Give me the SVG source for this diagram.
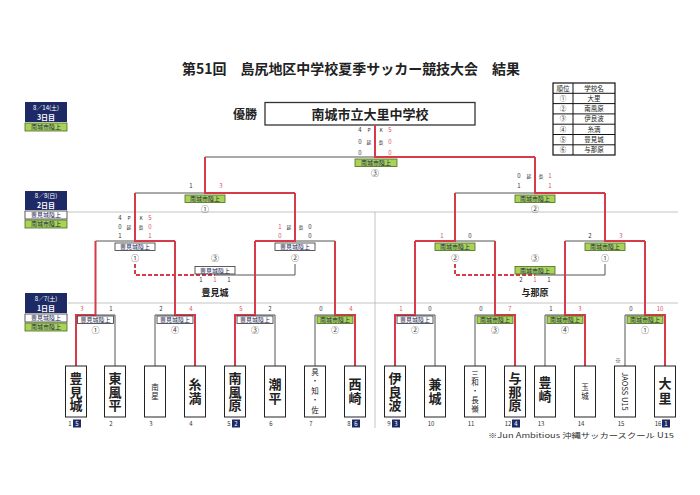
<svg xmlns="http://www.w3.org/2000/svg" width="700" height="495" viewBox="0 0 700 495">
<style>
text{font-family:"Noto Sans CJK JP","Noto Sans",sans-serif}
.g{stroke:#555;stroke-width:1;fill:none}
.r{stroke:#d63b4a;stroke-width:2;fill:none}
.rd{stroke:#d63b4a;stroke-width:2;stroke-dasharray:4 2;fill:none}
.sep{stroke:#b5b5b5;stroke-width:0.8;fill:none}
.box{fill:#fff;stroke:#222;stroke-width:1}
.lw{fill:#fff;stroke:#333;stroke-width:0.8}
.lg{fill:#a9d357;stroke:#4a6a1e;stroke-width:0.8}
.lt{font-size:6px;fill:#1a2550;text-anchor:middle}
.sc{font-size:6px;fill:#333;text-anchor:middle}
.sm{font-size:5px}
.red{fill:#e0505a}
.cn{font-size:8px;fill:#444;text-anchor:middle}
.tv{writing-mode:vertical-rl;text-anchor:middle;font-weight:700;fill:#222;font-size:13px}
.tvs{writing-mode:vertical-rl;text-anchor:middle;fill:#222;font-size:7.5px}
.lgd{font-size:6.5px;fill:#222;text-anchor:middle}
.num{font-size:6px;fill:#333;text-anchor:middle}
.nv{fill:#1e2a66}
.bw{font-size:6px;fill:#fff;text-anchor:middle}
.tb{font-size:7px;font-weight:700;fill:#fff;text-anchor:middle}
</style>
<rect width="700" height="495" fill="#fff"/>

<g id="title">
<text x="182" y="74" font-size="14" font-weight="700" fill="#222" textLength="338" lengthAdjust="spacingAndGlyphs">第51回　島尻地区中学校夏季サッカー競技大会　結果</text>
</g>

<g id="champion">
<text x="245" y="118.5" font-size="12" font-weight="700" fill="#222" text-anchor="middle">優勝</text>
<rect x="265" y="102.5" width="210" height="22.5" fill="#fff" stroke="#333" stroke-width="1.3"/>
<text x="370" y="118.5" font-size="13" font-weight="700" fill="#222" text-anchor="middle">南城市立大里中学校</text>
</g>

<g id="legend">
<rect x="553" y="83" width="62" height="72" fill="#fff" stroke="#111" stroke-width="1.2"/>
<path d="M573 83V155M553 93.3H615M553 103.6H615M553 113.9H615M553 124.2H615M553 134.5H615M553 144.8H615" stroke="#111" stroke-width="1"/>
<text x="563" y="90.5" class="lgd" font-size="6">順位</text><text x="594" y="90.5" class="lgd" font-size="6">学校名</text>
<text x="563" y="100.8" class="lgd">①</text><text x="594" y="100.8" class="lgd">大里</text>
<text x="563" y="111.1" class="lgd">②</text><text x="594" y="111.1" class="lgd">南風原</text>
<text x="563" y="121.4" class="lgd">③</text><text x="594" y="121.4" class="lgd">伊良波</text>
<text x="563" y="131.7" class="lgd">④</text><text x="594" y="131.7" class="lgd">糸満</text>
<text x="563" y="142" class="lgd">⑤</text><text x="594" y="142" class="lgd">豊見城</text>
<text x="563" y="152.3" class="lgd">⑥</text><text x="594" y="152.3" class="lgd">与那原</text>
</g>

<g id="day3">
<rect x="25" y="102" width="42" height="20" class="nv"/>
<text x="46" y="109.5" class="bw">8／14(土)</text>
<text x="46" y="119.5" class="tb">3日目</text>
<rect x="25" y="123" width="42" height="8" class="lg"/>
<text x="46" y="129.3" class="lt">南城市陸上</text>
</g>
<g id="day2">
<rect x="25" y="191" width="42" height="19" class="nv"/>
<text x="46" y="198" class="bw">8／8(日)</text>
<text x="46" y="207.5" class="tb">2日目</text>
<rect x="25" y="211" width="42" height="8" class="lw"/>
<text x="46" y="217.3" class="lt">豊見城陸上</text>
<rect x="25" y="220" width="42" height="8" class="lg"/>
<text x="46" y="226.3" class="lt">南城市陸上</text>
</g>
<g id="day1">
<rect x="25" y="293" width="42" height="20" class="nv"/>
<text x="46" y="300.5" class="bw">8／7(土)</text>
<text x="46" y="310.5" class="tb">1日目</text>
<rect x="25" y="314" width="42" height="8" class="lw"/>
<text x="46" y="320.3" class="lt">豊見城陸上</text>
<rect x="25" y="323" width="42" height="8" class="lg"/>
<text x="46" y="329.3" class="lt">南城市陸上</text>
</g>

<g id="separators">
<path class="sep" d="M68 212H678M68 303H678M375 212V428"/>
</g>

<g id="connectors">
<path class="g" d="M95.5 315H115V366M155 366V315H175M255 315H275V366M315 366V315H335M415 315H435V366M475 366V315H495M545 366V315H565M625 366V315H645"/>
<path class="g" d="M95.5 241H135M295 241H335M455 241H495M565 241H605"/>
<path class="g" d="M135 193H205M455 193H535M205 157H375"/>
<path class="g" d="M295 264V275H215M605 264V275H535"/>
<path class="r" d="M76 366V315H95.5V241M195 366V315H175V241M235 366V315H255V241M355 366V315H335V241"/>
<path class="r" d="M395 366V315H415V241M515 366V315H495V241M585 366V315H565V241M665 366V315H645V241"/>
<path class="r" d="M175 241H135V193M255 241H295V193M415 241H455V193M645 241H605V193"/>
<path class="r" d="M135 193V241M295 193H205V157M605 193H535V157M455 193V241"/>
<path class="r" d="M205 157V193M535 157H375V125"/>
<path class="rd" d="M135 264V275H215M455 264V275H535"/>
</g>

<g id="scores">
<text class="sc" x="360" y="131.5">4</text><text class="sc sm" x="369" y="131.5">P</text><text class="sc sm" x="381" y="131.5">K</text><text class="sc red" x="390" y="131.5">5</text>
<text class="sc" x="360" y="143.5">0</text><text class="sc sm" x="369" y="143.5">延</text><text class="sc sm" x="381" y="143.5">長</text><text class="sc red" x="390" y="143.5">0</text>
<text class="sc" x="360" y="154.5">0</text><text class="sc red" x="390" y="154.5">0</text>
<text class="sc" x="191" y="187.5">1</text><text class="sc red" x="221" y="187.5">3</text>
<text class="sc" x="519" y="177.5">0</text><text class="sc sm" x="529" y="177.5">延</text><text class="sc sm" x="541" y="177.5">長</text><text class="sc red" x="550" y="177.5">1</text>
<text class="sc" x="519" y="187.5">1</text><text class="sc red" x="550" y="187.5">1</text>
<text class="sc" x="120" y="219.5">4</text><text class="sc sm" x="129" y="219.5">P</text><text class="sc sm" x="141" y="219.5">K</text><text class="sc red" x="150" y="219.5">5</text>
<text class="sc" x="120" y="228.5">0</text><text class="sc sm" x="129" y="228.5">延</text><text class="sc sm" x="141" y="228.5">長</text><text class="sc red" x="150" y="228.5">0</text>
<text class="sc" x="120" y="237.5">1</text><text class="sc red" x="150" y="237.5">1</text>
<text class="sc red" x="280" y="228.5">1</text><text class="sc sm" x="289" y="228.5">延</text><text class="sc sm" x="301" y="228.5">長</text><text class="sc" x="310" y="228.5">0</text>
<text class="sc red" x="280" y="237.5">0</text><text class="sc" x="310" y="237.5">0</text>
<text class="sc red" x="442" y="237.5">1</text><text class="sc" x="470" y="237.5">0</text>
<text class="sc" x="590" y="237.5">2</text><text class="sc red" x="621" y="237.5">3</text>
<text class="sc" x="201" y="281.5">1</text><text class="sc red" x="215" y="281.5">1</text><text class="sc" x="229" y="281.5">1</text>
<text class="sc" x="521" y="281.5">2</text><text class="sc red" x="535" y="281.5">1</text><text class="sc" x="549" y="281.5">1</text>
<text class="sc red" x="82" y="311">3</text><text class="sc" x="111" y="311">1</text>
<text class="sc" x="161" y="311">2</text><text class="sc red" x="191" y="311">4</text>
<text class="sc red" x="241" y="311">5</text><text class="sc" x="270" y="311">2</text>
<text class="sc" x="321" y="311">0</text><text class="sc red" x="351" y="311">4</text>
<text class="sc red" x="401" y="311">1</text><text class="sc" x="430" y="311">0</text>
<text class="sc" x="481" y="311">0</text><text class="sc red" x="510" y="311">7</text>
<text class="sc" x="551" y="311">1</text><text class="sc red" x="580" y="311">3</text>
<text class="sc" x="631" y="311">0</text><text class="sc red" x="660" y="311">10</text>
</g>

<g id="match-final"><rect x="355" y="159" width="42" height="7.5" class="lg"/><text class="lt" x="376" y="165.2">南城市陸上</text><text class="cn" x="375" y="176">③</text></g>
<g id="match-sf1"><rect x="185" y="195" width="40" height="7.5" class="lg"/><text class="lt" x="205" y="201.2">南城市陸上</text><text class="cn" x="205" y="212">①</text></g>
<g id="match-sf2"><rect x="515" y="195" width="40" height="7.5" class="lg"/><text class="lt" x="535" y="201.2">南城市陸上</text><text class="cn" x="535" y="212">②</text></g>
<g id="match-qf1"><rect x="115" y="243" width="40" height="7.5" class="lw"/><text class="lt" x="135" y="249.2">豊見城陸上</text><text class="cn" x="135" y="261">①</text></g>
<g id="match-qf2"><rect x="275" y="243" width="40" height="7.5" class="lw"/><text class="lt" x="295" y="249.2">豊見城陸上</text><text class="cn" x="295" y="261">②</text></g>
<g id="match-qf3"><rect x="435" y="243" width="40" height="7.5" class="lg"/><text class="lt" x="455" y="249.2">南城市陸上</text><text class="cn" x="455" y="261">②</text></g>
<g id="match-qf4"><rect x="585" y="243" width="40" height="7.5" class="lg"/><text class="lt" x="605" y="249.2">南城市陸上</text><text class="cn" x="605" y="261">①</text></g>
<g id="match-p1"><text class="cn" x="215" y="261">③</text><rect x="195" y="266.5" width="40" height="7.5" class="lw"/><text class="lt" x="215" y="272.7">豊見城陸上</text><text x="215" y="296" font-size="9" font-weight="700" fill="#222" text-anchor="middle">豊見城</text></g>
<g id="match-p2"><text class="cn" x="535" y="261">③</text><rect x="515" y="266.5" width="40" height="7.5" class="lg"/><text class="lt" x="535" y="272.7">南城市陸上</text><text x="535" y="296" font-size="9" font-weight="700" fill="#222" text-anchor="middle">与那原</text></g>
<g id="match-r1">
<rect x="77.5" y="316" width="36" height="7.5" class="lw"/><text class="lt" x="95.5" y="322.2">豊見城陸上</text><text class="cn" x="95.5" y="333">①</text>
<rect x="157" y="316" width="36" height="7.5" class="lw"/><text class="lt" x="175" y="322.2">豊見城陸上</text><text class="cn" x="175" y="333">④</text>
<rect x="237" y="316" width="36" height="7.5" class="lw"/><text class="lt" x="255" y="322.2">豊見城陸上</text><text class="cn" x="255" y="333">③</text>
<rect x="317" y="316" width="36" height="7.5" class="lg"/><text class="lt" x="335" y="322.2">南城市陸上</text><text class="cn" x="335" y="333">②</text>
<rect x="397" y="316" width="36" height="7.5" class="lw"/><text class="lt" x="415" y="322.2">豊見城陸上</text><text class="cn" x="415" y="333">②</text>
<rect x="477" y="316" width="36" height="7.5" class="lg"/><text class="lt" x="495" y="322.2">南城市陸上</text><text class="cn" x="495" y="333">③</text>
<rect x="547" y="316" width="36" height="7.5" class="lg"/><text class="lt" x="565" y="322.2">南城市陸上</text><text class="cn" x="565" y="333">④</text>
<rect x="627" y="316" width="36" height="7.5" class="lg"/><text class="lt" x="645" y="322.2">南城市陸上</text><text class="cn" x="645" y="333">①</text>
</g>

<g id="team1"><rect x="65.5" y="366" width="21" height="51" class="box"/><text class="tv" x="76" y="392" letter-spacing="0.5">豊見城</text></g>
<g id="team2"><rect x="104.5" y="366" width="21" height="51" class="box"/><text class="tv" x="115" y="392" letter-spacing="0.5">東風平</text></g>
<g id="team3"><rect x="144.5" y="366" width="21" height="51" class="box"/><text class="tvs" x="155" y="392" letter-spacing="1">南星</text></g>
<g id="team4"><rect x="184.5" y="366" width="21" height="51" class="box"/><text class="tv" x="195" y="392" letter-spacing="1">糸満</text></g>
<g id="team5"><rect x="224.5" y="366" width="21" height="51" class="box"/><text class="tv" x="235" y="392" letter-spacing="0.5">南風原</text></g>
<g id="team6"><rect x="264.5" y="366" width="21" height="51" class="box"/><text class="tv" x="275" y="392" letter-spacing="1">潮平</text></g>
<g id="team7"><rect x="304.5" y="366" width="21" height="51" class="box"/><text class="tvs" x="315" y="392" font-size="7" letter-spacing="2">具・知・佐</text></g>
<g id="team8"><rect x="344.5" y="366" width="21" height="51" class="box"/><text class="tv" x="355" y="392" letter-spacing="1">西崎</text></g>
<g id="team9"><rect x="384.5" y="366" width="21" height="51" class="box"/><text class="tv" x="395" y="392" letter-spacing="0.5">伊良波</text></g>
<g id="team10"><rect x="424.5" y="366" width="21" height="51" class="box"/><text class="tv" x="435" y="392" font-size="12" letter-spacing="1">兼城</text></g>
<g id="team11"><rect x="464.5" y="366" width="21" height="51" class="box"/><text class="tvs" x="475" y="392" letter-spacing="1.3">三和・長嶺</text></g>
<g id="team12"><rect x="504.5" y="366" width="21" height="51" class="box"/><text class="tv" x="515" y="392" letter-spacing="0.5">与那原</text></g>
<g id="team13"><rect x="534.5" y="366" width="21" height="51" class="box"/><text class="tv" x="545" y="390" font-size="12" letter-spacing="1.5">豊崎</text></g>
<g id="team14"><rect x="574.5" y="366" width="21" height="51" class="box"/><text class="tvs" x="585" y="392" font-size="8" letter-spacing="1">玉城</text></g>
<g id="team15"><text x="618" y="363" font-size="6" fill="#333" text-anchor="middle">※</text><rect x="614.5" y="366" width="21" height="51" class="box"/><text font-size="7.5" fill="#222" text-anchor="middle" transform="translate(625 391.5) rotate(90)" y="2.6">JAOSS U15</text></g>
<g id="team16"><rect x="654.5" y="366" width="21" height="51" class="box"/><text class="tv" x="665" y="392" font-size="14" letter-spacing="2">大里</text></g>

<g id="numbers">
<text class="num" x="70" y="426">1</text><rect x="73" y="419.5" width="8" height="8" class="nv"/><text class="bw" x="77" y="425.8">5</text>
<text class="num" x="111" y="426">2</text>
<text class="num" x="151" y="426">3</text>
<text class="num" x="191" y="426">4</text>
<text class="num" x="229" y="426">5</text><rect x="232" y="419.5" width="8" height="8" class="nv"/><text class="bw" x="236" y="425.8">2</text>
<text class="num" x="271" y="426">6</text>
<text class="num" x="311" y="426">7</text>
<text class="num" x="349" y="426">8</text><rect x="352" y="419.5" width="8" height="8" class="nv"/><text class="bw" x="356" y="425.8">6</text>
<text class="num" x="389" y="426">9</text><rect x="392" y="419.5" width="8" height="8" class="nv"/><text class="bw" x="396" y="425.8">3</text>
<text class="num" x="431" y="426" font-size="5.5">10</text>
<text class="num" x="471" y="426" font-size="5.5">11</text>
<text class="num" x="508" y="426" font-size="5.5">12</text><rect x="512" y="419.5" width="8" height="8" class="nv"/><text class="bw" x="516" y="425.8">4</text>
<text class="num" x="541" y="426" font-size="5.5">13</text>
<text class="num" x="581" y="426" font-size="5.5">14</text>
<text class="num" x="621" y="426" font-size="5.5">15</text>
<text class="num" x="658" y="426" font-size="5.5">16</text><rect x="662" y="419.5" width="8" height="8" class="nv"/><text class="bw" x="666" y="425.8">1</text>
</g>

<g id="footnote">
<text x="488" y="437.5" font-size="7" fill="#333" textLength="186" lengthAdjust="spacingAndGlyphs">※Jun Ambitious 沖縄サッカースクール U15</text>
</g>
</svg>
